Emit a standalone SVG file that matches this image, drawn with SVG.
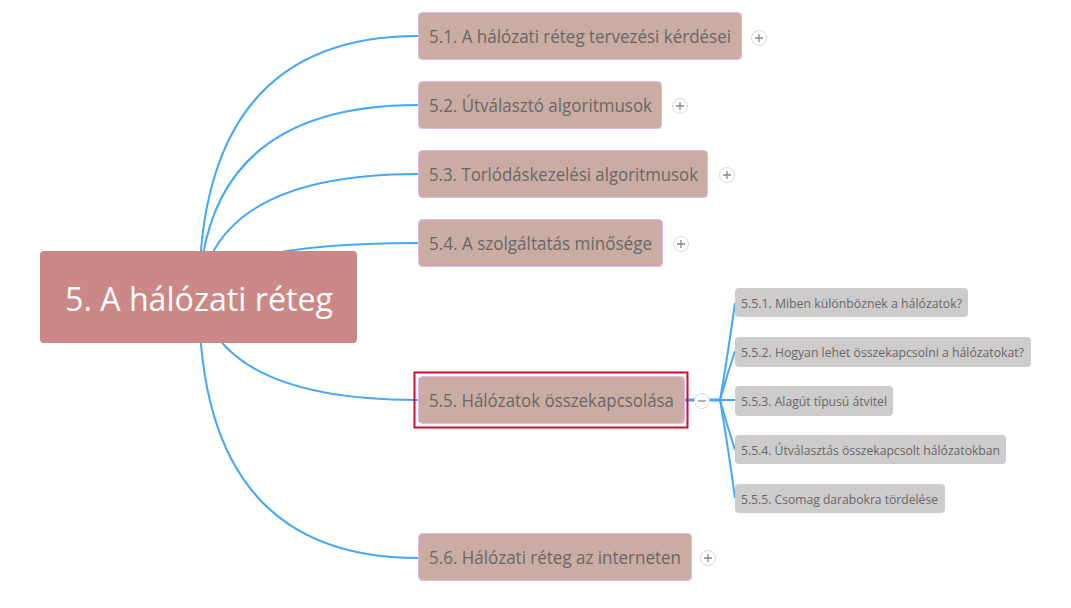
<svg xmlns="http://www.w3.org/2000/svg" width="1071" height="608" viewBox="0 0 1071 608">
<style>
.conn{fill:none;stroke:#45a7f8;stroke-width:2}
.main{fill:#cc8886}
.br{fill:#cbaca2;stroke:#ddb8ee;stroke-width:1}
.sub{fill:#cdcbcb}
.t1{font-family:"Open Sans","Liberation Sans",sans-serif;font-size:18px;fill:#686868}
.t2{font-family:"Open Sans","Liberation Sans",sans-serif;font-size:13px;fill:#686868}
.t0{font-family:"Open Sans","Liberation Sans",sans-serif;font-size:33px;fill:#ffffff}
.btn{fill:#ffffff;stroke:#d8d8d8;stroke-width:1}
.sym{stroke:#888888;stroke-width:1.3;fill:none}
</style>
<rect width="1071" height="608" fill="#ffffff"/>
<g id="connectors">
<path class="conn" d="M199 297 Q199 36 418 36"/>
<path class="conn" d="M199 297 Q204 105 418 105"/>
<path class="conn" d="M199 297 Q214 174 418 174"/>
<path class="conn" d="M199 297 Q210 243 418 243"/>
<path class="conn" d="M199 297 Q222 400 418 400"/>
<path class="conn" d="M199 297 Q199 558 418 558"/>
<path class="conn" d="M685 400 L720 400" style="stroke-width:3"/>
<path class="conn" d="M720 400 Q727 360 735 303"/>
<path class="conn" d="M720 400 Q727 375 735 351"/>
<path class="conn" d="M720 400 L735 400"/>
<path class="conn" d="M720 400 Q727 425 735 450"/>
<path class="conn" d="M720 400 Q727 440 735 498"/>
</g>
<g id="n0">
<rect class="main" x="40" y="251" width="317" height="92" rx="4"/>
<text class="t0" x="199" y="311" text-anchor="middle" textLength="268" lengthAdjust="spacingAndGlyphs">5. A hálózati réteg</text>
</g>
<g id="n1">
<rect class="br" x="418.5" y="12.5" width="323" height="47" rx="4"/>
<text class="t1" x="429" y="42.5" textLength="302" lengthAdjust="spacingAndGlyphs">5.1. A hálózati réteg tervezési kérdései</text>
<circle class="btn" cx="759" cy="38" r="7.5"/>
<path class="sym" d="M755 38 H763 M759 34 V42"/>
</g>
<g id="n2">
<rect class="br" x="418.5" y="81.5" width="243" height="47" rx="4"/>
<text class="t1" x="429" y="111.5" textLength="223" lengthAdjust="spacingAndGlyphs">5.2. Útválasztó algoritmusok</text>
<circle class="btn" cx="680" cy="106" r="7.5"/>
<path class="sym" d="M676 106 H684 M680 102 V110"/>
</g>
<g id="n3">
<rect class="br" x="418.5" y="150.5" width="289" height="47" rx="4"/>
<text class="t1" x="429" y="180.5" textLength="269" lengthAdjust="spacingAndGlyphs">5.3. Torlódáskezelési algoritmusok</text>
<circle class="btn" cx="727" cy="175" r="7.5"/>
<path class="sym" d="M723 175 H731 M727 171 V179"/>
</g>
<g id="n4">
<rect class="br" x="418.5" y="219.5" width="244" height="47" rx="4"/>
<text class="t1" x="429" y="249.5" textLength="223" lengthAdjust="spacingAndGlyphs">5.4. A szolgáltatás minősége</text>
<circle class="btn" cx="681" cy="244" r="7.5"/>
<path class="sym" d="M677 244 H685 M681 240 V248"/>
</g>
<g id="n5">
<rect x="414.5" y="372.5" width="273" height="55" fill="none" stroke="#c8102e" stroke-width="2"/>
<rect class="br" x="418.5" y="376.5" width="266" height="47" rx="4"/>
<text class="t1" x="429" y="406.5" textLength="245" lengthAdjust="spacingAndGlyphs">5.5. Hálózatok összekapcsolása</text>
<circle class="btn" cx="702" cy="401" r="7.5"/>
<path class="sym" d="M698 401 H706"/>
</g>
<g id="n6">
<rect class="br" x="418.5" y="533.5" width="273" height="47" rx="4"/>
<text class="t1" x="429" y="563.5" textLength="252" lengthAdjust="spacingAndGlyphs">5.6. Hálózati réteg az interneten</text>
<circle class="btn" cx="708" cy="558" r="7.5"/>
<path class="sym" d="M704 558 H712 M708 554 V562"/>
</g>
<g id="n51">
<rect class="sub" x="735" y="288" width="233" height="29" rx="4"/>
<text class="t2" x="741" y="307.5" textLength="221" lengthAdjust="spacingAndGlyphs">5.5.1. Miben különböznek a hálózatok?</text>
</g>
<g id="n52">
<rect class="sub" x="735" y="337" width="296" height="30" rx="4"/>
<text class="t2" x="741" y="356.5" textLength="283" lengthAdjust="spacingAndGlyphs">5.5.2. Hogyan lehet összekapcsolni a hálózatokat?</text>
</g>
<g id="n53">
<rect class="sub" x="735" y="386" width="158" height="30" rx="4"/>
<text class="t2" x="741" y="405.5" textLength="146" lengthAdjust="spacingAndGlyphs">5.5.3. Alagút típusú átvitel</text>
</g>
<g id="n54">
<rect class="sub" x="735" y="435" width="271" height="29" rx="4"/>
<text class="t2" x="741" y="454.5" textLength="259" lengthAdjust="spacingAndGlyphs">5.5.4. Útválasztás összekapcsolt hálózatokban</text>
</g>
<g id="n55">
<rect class="sub" x="735" y="484" width="210" height="29" rx="4"/>
<text class="t2" x="741" y="503.5" textLength="197" lengthAdjust="spacingAndGlyphs">5.5.5. Csomag darabokra tördelése</text>
</g>
</svg>
